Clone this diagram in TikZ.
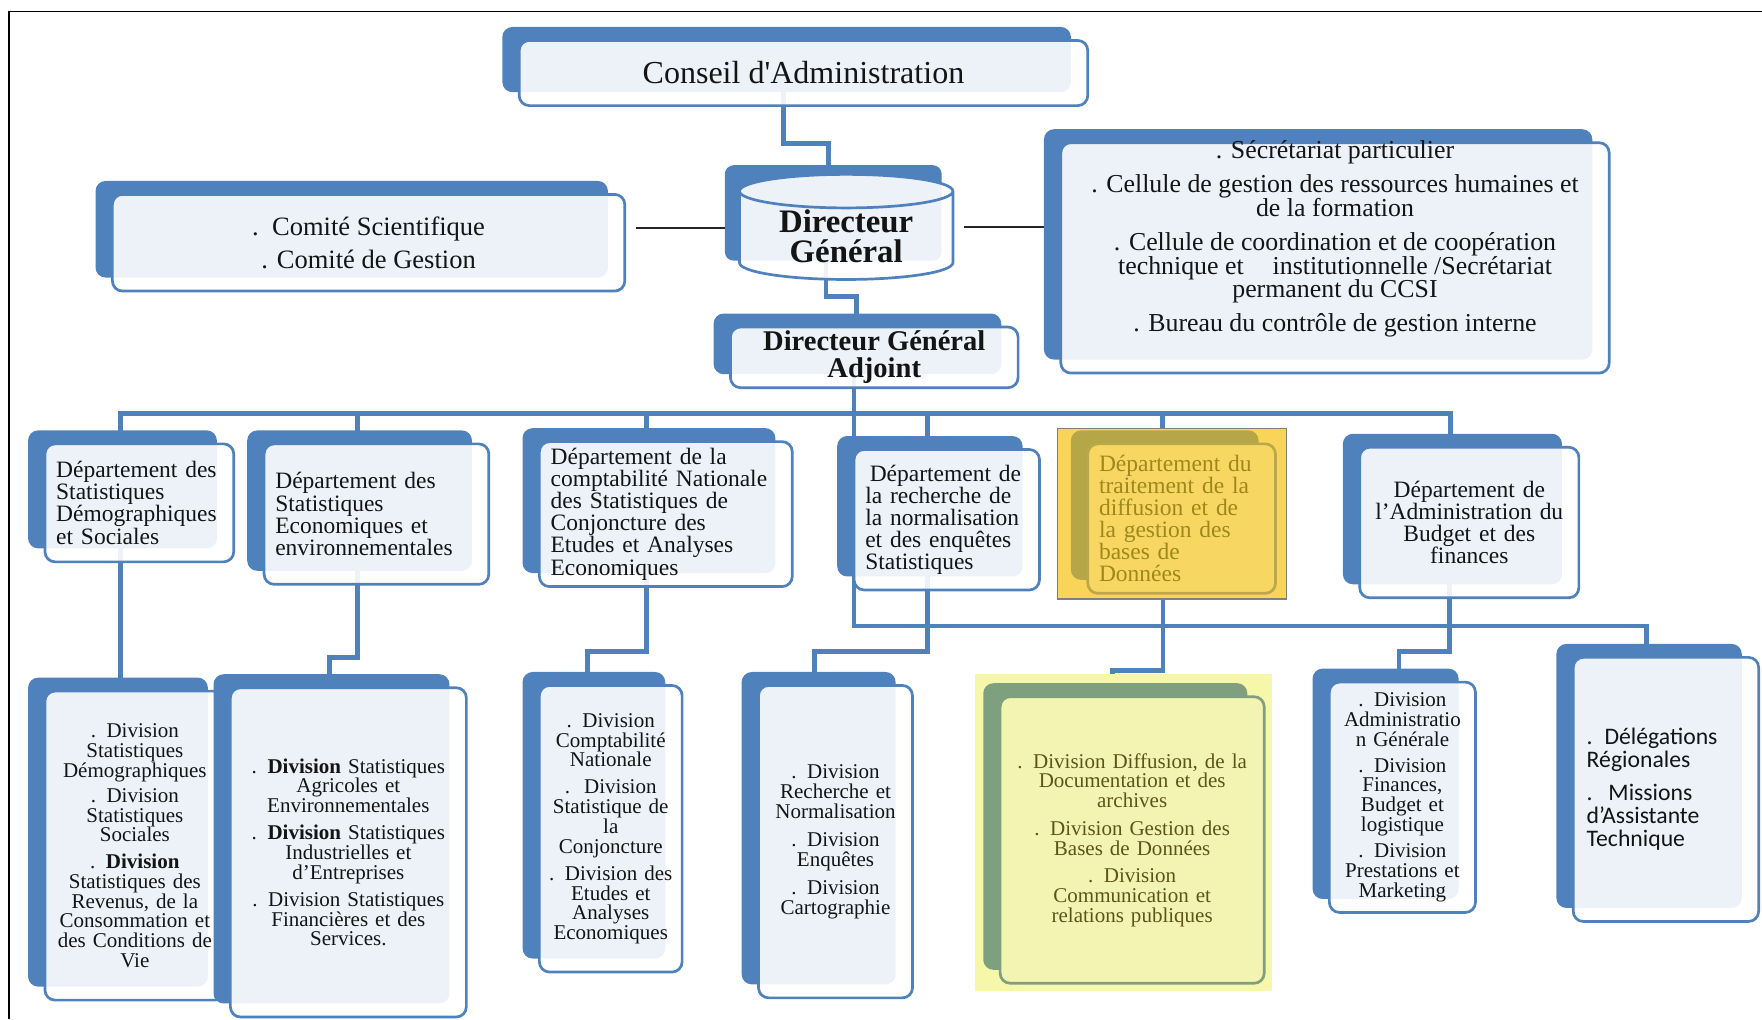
\documentclass[tikz,border=0pt]{standalone}
\usepackage{fontspec}
\setmainfont{Liberation Serif}
\newfontfamily\sansbox{Carlito}
\usetikzlibrary{shapes.geometric,shadows,backgrounds}

\definecolor{accent}{RGB}{79,129,189}
\definecolor{ink}{RGB}{20,20,20}
\definecolor{goldfill}{RGB}{248,212,88}
\definecolor{goldface}{RGB}{247,215,98}
\definecolor{oliveback}{RGB}{181,166,72}
\definecolor{oliveline}{RGB}{186,168,74}
\definecolor{olivetext}{RGB}{158,136,28}
\definecolor{paleyellow}{RGB}{246,247,168}
\definecolor{paleface}{RGB}{243,244,178}
\definecolor{sageback}{RGB}{127,160,127}
\definecolor{sagetext}{RGB}{92,84,24}

\tikzset{
  unit/.style={rectangle, rounded corners=9pt, draw=accent, line width=2.4pt,
    fill=white, fill opacity=0.9, text opacity=1, text=ink, inner ysep=0pt,
    general shadow={fill=#1, fill opacity=1, shadow xshift=-15pt, shadow yshift=12pt}},
  unit/.default=accent,
  dept/.style={unit=#1, font=\fontsize{20.9}{19.7}\selectfont, align=left, inner xsep=10pt},
  dept/.default=accent,
  div/.style={unit=#1, font=\fontsize{18.7}{17.6}\selectfont, align=center, inner xsep=4pt},
  div/.default=accent,
  drum/.style={cylinder, shape border rotate=90, aspect=0.25, draw=accent, line width=2.4pt,
    fill=white, fill opacity=0.9, text opacity=1, text=ink, inner sep=0pt, align=center},
  link/.style={draw=accent, line width=4.3pt},
  tie/.style={draw=black!85, line width=1.2pt},
}

\begin{document}
\begin{tikzpicture}[x=1pt,y=-1pt]
\useasboundingbox (0,0) rectangle (1568,907);
\draw[line width=1.3pt] (8,907) -- (8,10) -- (1568,10);

% highlighted blocks
\draw[fill=goldfill, draw=gray, line width=1pt] (941,381) rectangle (1145,533);
\fill[paleyellow] (868,600) rectangle (1132,882);

% direction
\node[unit, font=\fontsize{28.5}{30}\selectfont, minimum width=506pt, minimum height=58pt] (conseil) at (715,65) {Conseil d\textquotesingle Administration};
\node[unit, font=\fontsize{23.6}{30}\selectfont, align=center, minimum width=456pt, minimum height=86pt] (comite) at (328,216) {.\ \ Comité Scientifique\\. Comité de Gestion};
\node[drum, font=\bfseries\fontsize{29.2}{27}\selectfont, minimum width=190pt, minimum height=89pt] (dg) at (753,210) {Directeur\\Général};
\node[unit, minimum width=488pt, minimum height=205pt] (sec) at (1188,229.5) {};
\node[font=\fontsize{23}{21}\selectfont, align=center, text=ink] (sectext) at ([yshift=17pt]sec.center) {. Sécrétariat particulier\\[9pt]
  . Cellule de gestion des ressources humaines et\\de la formation\\[9pt]
  . Cellule de coordination et de coopération\\technique et \hspace{20pt}institutionnelle /Secrétariat\\permanent du CCSI\\[9pt]
  . Bureau du contrôle de gestion interne};
\node[unit, font=\bfseries\fontsize{25.4}{24}\selectfont, align=center, minimum width=256pt, minimum height=54pt] (dga) at (778,318) {Directeur Général\\Adjoint};

% departements
\node[dept, text width=148pt, minimum height=105pt] (d1) at (124,447.5) {Département des\\Statistiques\\Démographiques\\et Sociales};
\node[dept, text width=180pt, minimum height=125pt] (d2) at (335,457.5) {Département des\\Statistiques\\Economiques et\\environnementales};
\node[dept, text width=205pt, minimum height=129pt] (d3) at (592.5,457.5) {Département de la\\comptabilité Nationale\\des Statistiques de\\Conjoncture des\\Etudes et Analyses\\Economiques};
\node[dept, text width=145pt, minimum height=125pt] (d4) at (842.5,462.5) {\hspace*{4pt}Département de\\la recherche de\\la normalisation\\et des enquêtes\\Statistiques};
\node[dept=oliveback, draw=oliveline, fill=goldface, fill opacity=1, text=olivetext, text width=147pt, minimum height=133pt] (d5) at (1051.5,461.5) {Département du\\traitement de la\\diffusion et de\\la gestion des\\bases de\\Données};
\node[dept, align=center, text width=175pt, minimum height=134pt] (d6) at (1307.5,465) {Département de\\l’Administration du\\Budget et des\\finances};

% divisions
\node[div, text width=152pt, minimum height=275pt] (v1) at (120,752.5) {. Division\\Statistiques\\Démographiques\\[5pt]
  . Division\\Statistiques\\Sociales\\[6pt]
  . \textbf{Division}\\Statistiques des\\Revenus, de la\\Consommation et\\des Conditions de\\Vie};
\node[div, text width=202pt, minimum height=293pt] (v2) at (310,758.5) {. \textbf{Division} Statistiques\\Agricoles et\\Environnementales\\[6.5pt]
  . \textbf{Division} Statistiques\\Industrielles et\\d’Entreprises\\[6.5pt]
  . Division Statistiques\\Financières et des\\Services.};
\node[div, text width=119pt, minimum height=255pt] (v3) at (543.5,737.5) {. Division\\Comptabilité\\Nationale\\[6.5pt]
  .\ \ Division\\Statistique de\\la\\Conjoncture\\[6.5pt]
  . Division des\\Etudes et\\Analyses\\Economiques};
\node[div, text width=129pt, minimum height=278pt] (v4) at (743.5,749) {. Division\\Recherche et\\Normalisation\\[7.5pt]
  . Division\\Enquêtes\\[7.5pt]
  . Division\\Cartographie};
\node[div=sageback, draw=sageback, fill=paleface, fill opacity=1, text=sagetext, text width=227pt, minimum height=255pt] (v5) at (1007.5,747.5) {. Division Diffusion, de la\\Documentation et des\\archives\\[7pt]
  . Division Gestion des\\Bases de Données\\[7pt]
  . Division\\Communication et\\relations publiques};
\node[div, text width=122pt, minimum height=205pt] (v6) at (1248,709.5) {. Division\\Administratio\\n Générale\\[5.5pt]
  . Division\\Finances,\\Budget et\\logistique\\[6pt]
  . Division\\Prestations et\\Marketing};
\node[unit, font=\sansbox\fontsize{21.1}{20.5}\selectfont, align=left, inner xsep=12pt, text width=141pt, minimum height=235pt] (deleg) at (1482.5,702.5) {. Délégations\\Régionales\\[9pt]
  .\ \ Missions\\d’Assistante\\Technique};

\begin{scope}[on background layer]
  % hierarchy
  \draw[link] ([xshift=-18pt]conseil.center) -- ++(0,63) -| ([xshift=-16pt]dg.center);
  \draw[link] ([xshift=-18pt]dg.center) -- ++(0,54) -| ([xshift=-16pt]dga.center);
  \draw[link] ([xshift=-18pt]dga.center) -- ++(0,50) coordinate (bus);
  \foreach \d in {d1,d2,d3,d4,d5,d6}
    \draw[link] ([xshift=-17pt]\d.center) |- (bus);
  \draw[link] (bus) -- ++(0,189) -| ([xshift=-17.5pt]deleg.center);
  \draw[link] ([xshift=-17pt]d1.center) -- ([xshift=-17pt]d1.center |- v1.center);
  \draw[link] ([xshift=-17pt]d2.center) -- ++(0,127.5) -| ([xshift=-17pt]v2.center);
  \draw[link] ([xshift=-17.5pt]d3.center) -- ++(0,122.5) -| ([xshift=-20.5pt]v3.center);
  \draw[link] ([xshift=-17.5pt]d4.center) -- ++(0,117.5) -| ([xshift=-18.5pt]v4.center);
  \draw[link] ([xshift=-16.5pt]d5.center) -- ++(0,135.5) -| ([xshift=-17.5pt]v5.center);
  \draw[link] ([xshift=-17.5pt]d6.center) -- ++(0,115) -| ([xshift=-3pt]v6.center);
  % staff
  \draw[tie, shorten <=9pt] ([yshift=13pt]comite.east) -- ([yshift=13pt]comite.east -| dg.center);
  \draw[tie, shorten <=105pt] ([yshift=8pt]dg.center) -- ([yshift=8pt]dg.center -| sec.center);
  % back of the drum
  \fill[accent, rounded corners=8pt] (645,147) rectangle (838,232);
\end{scope}
\end{tikzpicture}
\end{document}
